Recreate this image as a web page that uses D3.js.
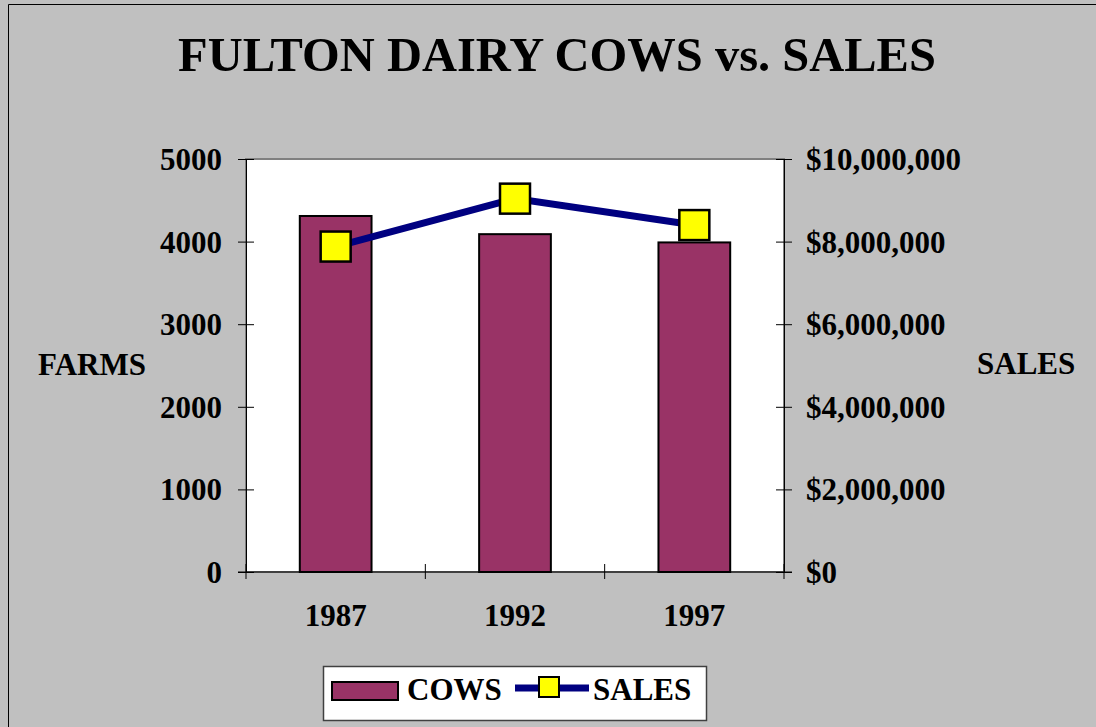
<!DOCTYPE html>
<html>
<head>
<meta charset="utf-8">
<script src="https://cdn.jsdelivr.net/npm/d3@7"></script>
<style>
  html, body { margin: 0; padding: 0; overflow: hidden; background: #c0c0c0; }
  svg { display: block; }
  text { font-family: "Liberation Serif", "Times New Roman", serif; font-weight: bold; fill: #000; }
</style>
</head>
<body>
<svg id="chart" width="1096" height="727"></svg>
<script>
const years = ['1987', '1992', '1997'];
const cows = [4310, 4090, 3990];
const sales = [7880000, 9040000, 8400000];
const leftTicks = [0, 1000, 2000, 3000, 4000, 5000];
const rightTicks = [0, 2000000, 4000000, 6000000, 8000000, 10000000];

const svg = d3.select('#chart');

// chart border, only left and top edges are inside the picture
svg.append('path')
    .attr('d', 'M8.5,727 L8.5,4.5 L1096,4.5')
    .attr('fill', 'none')
    .attr('stroke', '#000')
    .attr('stroke-width', 1);

const plotL = 246, plotR = 784, plotT = 159, plotB = 572;

const xScale = d3.scaleBand()
    .domain(years)
    .range([plotL, plotR])
    .padding(0);

const yLeft = d3.scaleLinear().domain([0, 5000]).range([plotB, plotT]);
const yRight = d3.scaleLinear().domain([0, 10000000]).range([plotB, plotT]);

// plot area
svg.append('rect')
    .attr('x', plotL).attr('y', plotT)
    .attr('width', plotR - plotL).attr('height', plotB - plotT)
    .attr('fill', '#fff')
    .attr('stroke', '#808080')
    .attr('stroke-width', 2);

// bars
const barW = xScale.bandwidth() * 0.4;
svg.append('g').selectAll('rect')
    .data(years)
    .enter()
    .append('rect')
    .attr('x', (d) => xScale(d) + (xScale.bandwidth() - barW) / 2)
    .attr('y', (d, i) => yLeft(cows[i]))
    .attr('width', barW)
    .attr('height', (d, i) => plotB - yLeft(cows[i]))
    .attr('fill', '#993366')
    .attr('stroke', '#000')
    .attr('stroke-width', 2);

// left axis
const gl = svg.append('g')
    .attr('transform', `translate(${plotL}, 0)`)
    .call(d3.axisLeft(yLeft).tickValues(leftTicks).tickSize(8).tickPadding(16).tickSizeOuter(0)
        .tickFormat(d3.format('d')));
gl.selectAll('.tick line').attr('x1', 8).attr('stroke', '#000');
gl.select('.domain').attr('stroke', '#000');
gl.selectAll('text').style('font-size', '31px').attr('dy', '0.34em');

// right axis
const gr = svg.append('g')
    .attr('transform', `translate(${plotR}, 0)`)
    .call(d3.axisRight(yRight).tickValues(rightTicks).tickSize(8).tickPadding(14).tickSizeOuter(0)
        .tickFormat((d) => '$' + d3.format(',')(d)));
gr.selectAll('.tick line').attr('x1', -8).attr('stroke', '#000');
gr.select('.domain').attr('stroke', '#000');
gr.selectAll('text').style('font-size', '31px').attr('dy', '0.34em');

// bottom axis: ticks on category boundaries, labels at centers
const xAxis = svg.append('g');
xAxis.append('line')
    .attr('x1', plotL - 8).attr('x2', plotR + 8)
    .attr('y1', plotB).attr('y2', plotB)
    .attr('stroke', '#000');
const bounds = years.map((d) => xScale(d)).concat([plotR]);
xAxis.selectAll('.xtick')
    .data(bounds)
    .enter()
    .append('line')
    .attr('x1', (d) => d).attr('x2', (d) => d)
    .attr('y1', plotB - 8).attr('y2', plotB + 7)
    .attr('stroke', '#000');
xAxis.selectAll('.xlab')
    .data(years)
    .enter()
    .append('text')
    .attr('x', (d) => xScale(d) + xScale.bandwidth() / 2)
    .attr('y', 626)
    .attr('text-anchor', 'middle')
    .style('font-size', '31px')
    .text((d) => d);

// sales line
const line = d3.line()
    .x((d, i) => xScale(years[i]) + xScale.bandwidth() / 2)
    .y((d) => yRight(d));
svg.append('path')
    .datum(sales)
    .attr('d', line)
    .attr('fill', 'none')
    .attr('stroke', '#000080')
    .attr('stroke-width', 7);

const mk = 30;
svg.append('g').selectAll('rect')
    .data(sales)
    .enter()
    .append('rect')
    .attr('x', (d, i) => xScale(years[i]) + xScale.bandwidth() / 2 - mk / 2)
    .attr('y', (d) => yRight(d) - mk / 2)
    .attr('width', mk).attr('height', mk)
    .attr('fill', '#ffff00')
    .attr('stroke', '#000')
    .attr('stroke-width', 2.5);

// titles
svg.append('text')
    .attr('x', 557).attr('y', 71)
    .attr('text-anchor', 'middle')
    .style('font-size', '48.5px')
    .text('FULTON DAIRY COWS vs. SALES');

svg.append('text')
    .attr('x', 38).attr('y', 375)
    .style('font-size', '31px')
    .text('FARMS');

svg.append('text')
    .attr('x', 977).attr('y', 374)
    .style('font-size', '31px')
    .text('SALES');

// legend
const lg = svg.append('g');
lg.append('rect')
    .attr('x', 323.5).attr('y', 666.5)
    .attr('width', 383).attr('height', 54)
    .attr('fill', '#fff')
    .attr('stroke', '#404040')
    .attr('stroke-width', 1.5);
lg.append('rect')
    .attr('x', 332).attr('y', 682)
    .attr('width', 66).attr('height', 18)
    .attr('fill', '#993366')
    .attr('stroke', '#000')
    .attr('stroke-width', 2);
lg.append('text')
    .attr('x', 407).attr('y', 700)
    .style('font-size', '31px')
    .text('COWS');
lg.append('line')
    .attr('x1', 515).attr('x2', 589)
    .attr('y1', 688).attr('y2', 688)
    .attr('stroke', '#000080')
    .attr('stroke-width', 7);
lg.append('rect')
    .attr('x', 539).attr('y', 677)
    .attr('width', 20).attr('height', 20)
    .attr('fill', '#ffff00')
    .attr('stroke', '#000')
    .attr('stroke-width', 2);
lg.append('text')
    .attr('x', 593).attr('y', 700)
    .style('font-size', '31px')
    .text('SALES');
</script>
</body>
</html>
